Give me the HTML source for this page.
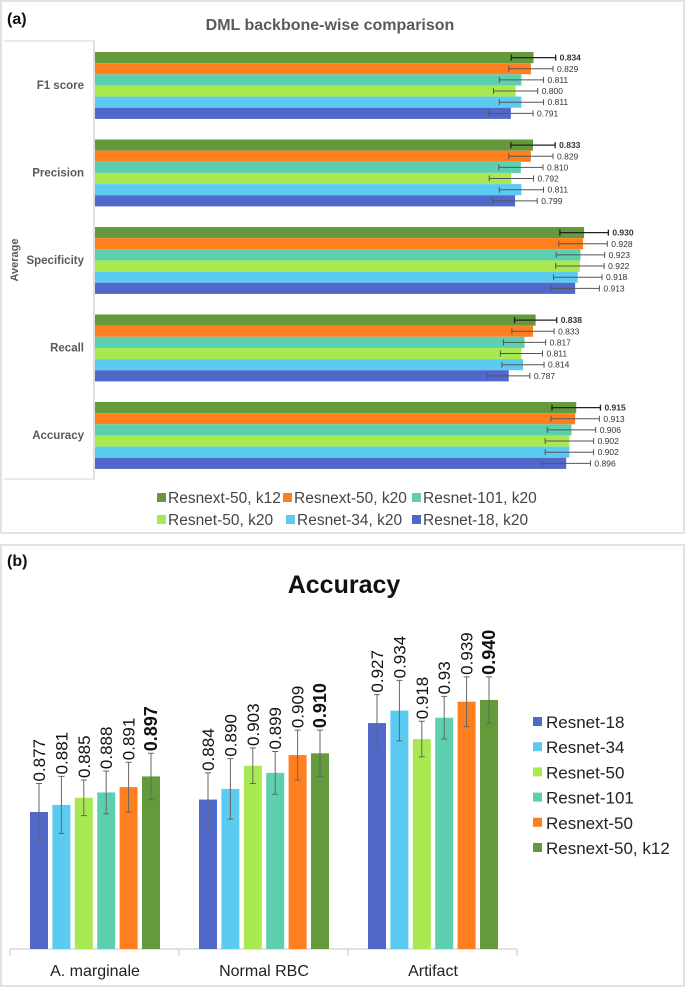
<!DOCTYPE html>
<html><head><meta charset="utf-8"><style>
body{margin:0;background:#fff;}
svg{display:block;font-family:"Liberation Sans",Arial,sans-serif;}
</style></head><body>
<svg id="fig" width="685" height="987" viewBox="0 0 685 987">
<rect x="1" y="1" width="683" height="532" fill="#fff" stroke="#e2e2e2" stroke-width="2"/>
<rect x="1" y="545" width="683" height="441" fill="#fff" stroke="#e2e2e2" stroke-width="2"/>
<text x="7" y="24" font-size="16" font-weight="bold" fill="#111">(a)</text>
<text x="330" y="30" font-size="16" font-weight="bold" fill="#5a5a5a" text-anchor="middle">DML backbone-wise comparison</text>
<path d="M4 41H94V479H4" fill="none" stroke="#e2e2e2" stroke-width="1.5"/>
<text transform="translate(18,260) rotate(-90)" font-size="11" font-weight="bold" fill="#5a5a5a" text-anchor="middle">Average</text>
<g id="ga"></g>
<text x="7" y="566" font-size="16" font-weight="bold" fill="#111">(b)</text>
<text x="344" y="593" font-size="25" font-weight="bold" fill="#111" text-anchor="middle">Accuracy</text>
<g id="gb"></g>
</svg>
<script>
// ---- Chart (a) data ----
const metricsA = ["F1 score","Precision","Specificity","Recall","Accuracy"];
const seriesA = ["Resnext-50, k12","Resnext-50, k20","Resnet-101, k20","Resnet-50, k20","Resnet-34, k20","Resnet-18, k20"];
const f1Vals = [0.834,0.829,0.811,0.800,0.811,0.791];
const precisionVals = [0.833,0.829,0.810,0.792,0.811,0.799];
const specificityVals = [0.930,0.928,0.923,0.922,0.918,0.913];
const recallVals = [0.838,0.833,0.817,0.811,0.814,0.787];
const accuracyVals = [0.915,0.913,0.906,0.902,0.902,0.896];
const errA = [0.042,0.042,0.046,0.040,0.046];
// ---- Chart (b) data ----
const categoriesB = ["A. marginale","Normal RBC","Artifact"];
const seriesB = ["Resnet-18","Resnet-34","Resnet-50","Resnet-101","Resnext-50","Resnext-50, k12"];
const marginaleVals = [0.877,0.881,0.885,0.888,0.891,0.897];
const normalVals = [0.884,0.890,0.903,0.899,0.909,0.910];
const artifactVals = [0.927,0.934,0.918,0.930,0.939,0.940];
const marginaleLabels = ["0.877","0.881","0.885","0.888","0.891","0.897"];
const normalLabels = ["0.884","0.890","0.903","0.899","0.909","0.910"];
const artifactLabels = ["0.927","0.934","0.918","0.93","0.939","0.940"];
const marginaleErr = [0.016,0.016,0.010,0.012,0.014,0.013];
const normalErr = [0.015,0.017,0.010,0.012,0.014,0.013];
const artifactErr = [0.016,0.017,0.010,0.012,0.014,0.013];

const NS="http://www.w3.org/2000/svg";
function mk(tag,attrs,parent,txt){const e=document.createElementNS(NS,tag);for(const k in attrs)e.setAttribute(k,attrs[k]);if(txt!==undefined)e.textContent=txt;parent.appendChild(e);return e;}
const colA=["#629a3c","#ff7f1f","#5dcfb1","#a8e952","#5ccbf1","#4f68c9"];
const colB=["#4f68c9","#5ccbf1","#a8e952","#5dcfb1","#ff7f1f","#629a3c"];

// Chart A
const ga=document.getElementById('ga');
const xA=v=>94+v*527;
const valsA=[f1Vals,precisionVals,specificityVals,recallVals,accuracyVals];
mk('line',{x1:94,y1:41,x2:94,y2:479,stroke:'#d9d9d9','stroke-width':1.5},ga);
metricsA.forEach((m,gi)=>{
  const gy=52+gi*87.5;
  const lab=mk('text',{x:84,y:gy+33+4,'font-size':11.5,'font-weight':'bold',fill:'#5a5a5a','text-anchor':'end'},ga,m);
  
  
  valsA[gi].forEach((v,si)=>{
    const y=gy+si*11.15;
    const r=mk('rect',{x:95,y:y,width:xA(v)-95,height:11.15,fill:colA[si]},ga);
    
    
    const e=errA[gi],cy=y+5.6,x1=xA(v-e),x2=xA(v+e);
    const col=si==0?'#222':'#555';
    const eb=mk('path',{d:`M${x1} ${cy}H${x2}M${x1} ${cy-3}V${cy+3}M${x2} ${cy-3}V${cy+3}`,stroke:col,'stroke-width':si==0?1.3:1,fill:'none'},ga);
    
    
    const t=mk('text',{x:x2+4,y:cy+3,'font-size':8.5,fill:'#333','font-weight':si==0?'bold':'normal'},ga,v.toFixed(3));
    
    
  });
});
// legend A
const legA=[[157,498],[283,498],[412,498],[157,520],[286,520],[412,520]];
seriesA.forEach((s,i)=>{
  const g=mk('g',{},ga);
  
  
  mk('rect',{x:legA[i][0],y:legA[i][1]-5,width:9,height:9,fill:colA[i]},g);
  mk('text',{x:legA[i][0]+11,y:legA[i][1]+5,'font-size':15.5,fill:'#444'},g,s);
});

// Chart B
const gb=document.getElementById('gb');
const yB=v=>949-(v-0.8)*1779;
const valsB=[marginaleVals,normalVals,artifactVals];
const labsB=[marginaleLabels,normalLabels,artifactLabels];
const errB=[marginaleErr,normalErr,artifactErr];
mk('line',{x1:10,y1:949,x2:517,y2:949,stroke:'#d9d9d9','stroke-width':1.5},gb);
[10,179,348,517].forEach(x=>{const l=mk('line',{x1:x,y1:949,x2:x,y2:956,stroke:'#d9d9d9','stroke-width':1.5},gb);});
categoriesB.forEach((c,ci)=>{
  const gx=10+ci*169;
  const t=mk('text',{x:gx+85,y:976,'font-size':16,fill:'#222','text-anchor':'middle'},gb,c);
  
  
  valsB[ci].forEach((v,si)=>{
    const x=gx+20+si*22.4;
    const r=mk('rect',{x:x,y:yB(v),width:18,height:949-yB(v),fill:colB[si]},gb);
    
    
    const e=errB[ci][si],cx=x+9,y1=yB(v+e),y2=yB(v-e);
    const eb=mk('path',{d:`M${cx} ${y1}V${y2}M${cx-3} ${y1}H${cx+3}M${cx-3} ${y2}H${cx+3}`,stroke:'#666','stroke-width':1,fill:'none'},gb);
    
    
    const bold=si==5;
    const t=mk('text',{transform:`translate(${cx+6},${y1-2}) rotate(-90)`,'font-size':bold?18:17,'font-weight':bold?'bold':'normal',fill:'#111'},gb,labsB[ci][si]);
    
    
  });
});
seriesB.forEach((s,i)=>{
  const y=722+i*25.2;
  const g=mk('g',{},gb);
  
  
  mk('rect',{x:533,y:y-5,width:9,height:9,fill:colB[i]},g);
  mk('text',{x:546,y:y+6,'font-size':17,fill:'#222'},g,s);
});
</script>
</body></html>
